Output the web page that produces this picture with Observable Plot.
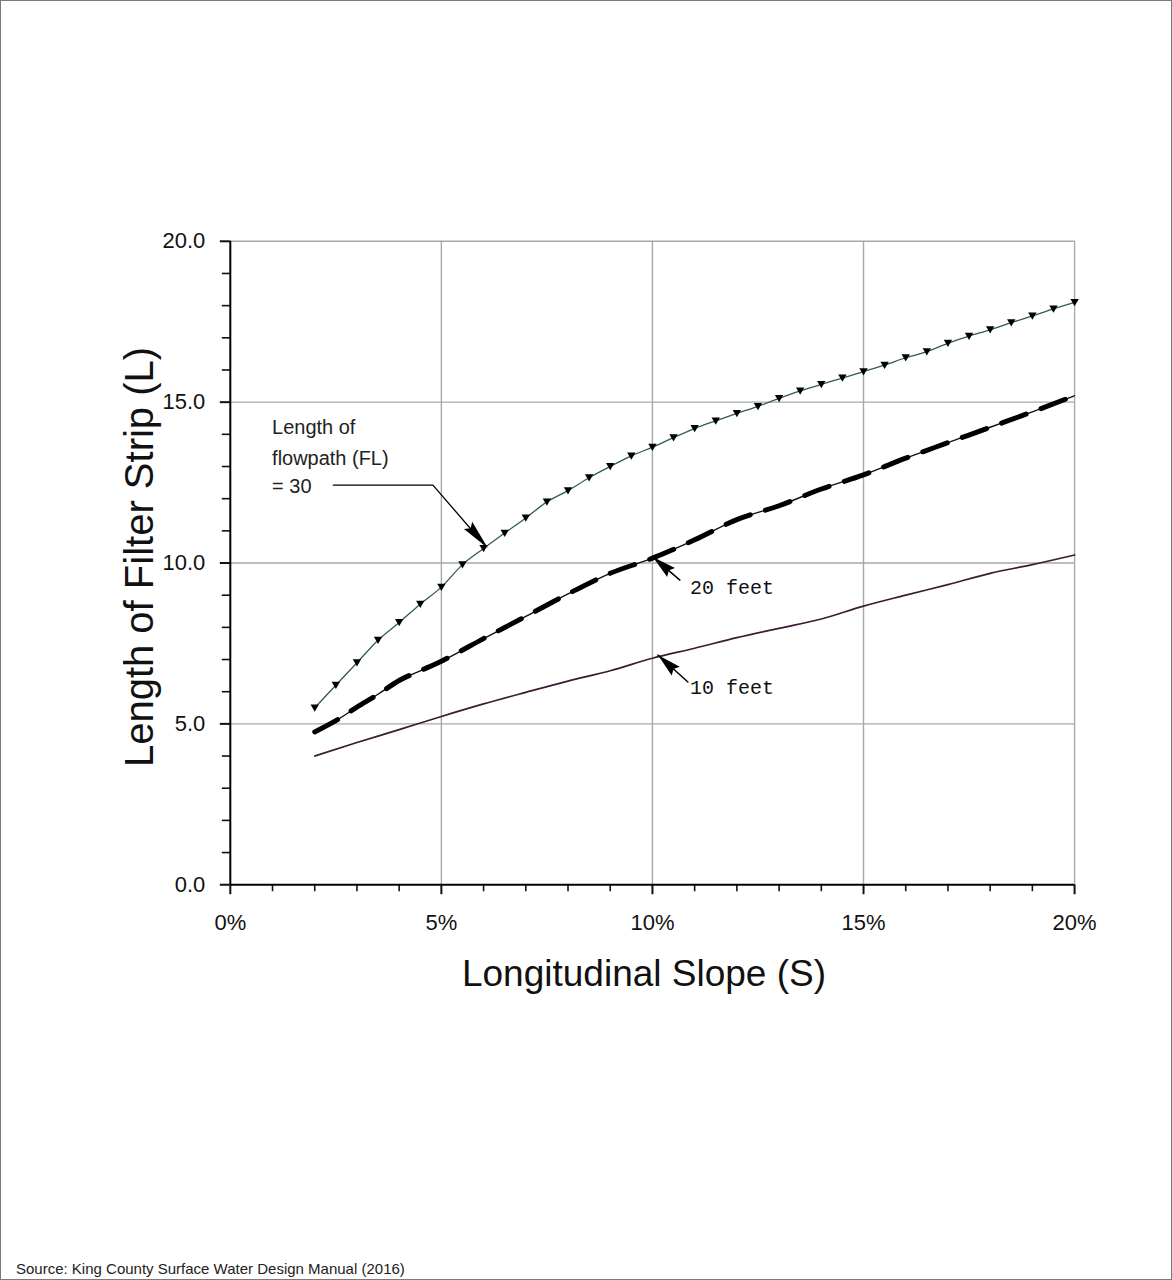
<!DOCTYPE html>
<html>
<head>
<meta charset="utf-8">
<script src="https://cdn.jsdelivr.net/npm/d3@7"></script>
<script src="https://cdn.jsdelivr.net/npm/@observablehq/plot@0.6"></script>
<style>
html,body{margin:0;padding:0;background:#fff;}
#frame{position:relative;width:1172px;height:1280px;box-sizing:border-box;border:1px solid #7a7a7a;background:#fff;overflow:hidden;}
#chart{position:absolute;left:-1px;top:-1px;}
.title{position:absolute;font-family:"Liberation Sans",Arial,sans-serif;color:#111;white-space:nowrap;}
#xtitle{left:643px;top:973px;font-size:37px;transform:translate(-50%,-50%);}
#ytitle{left:138px;top:556px;font-size:40px;transform:translate(-50%,-50%) rotate(-90deg);}
#caption{position:absolute;left:15px;top:1259px;font:15px "Liberation Sans",Arial,sans-serif;color:#222;}
</style>
</head>
<body>
<div id="frame">
  <div id="chart"></div>
  <div class="title" id="xtitle">Longitudinal Slope (S)</div>
  <div class="title" id="ytitle">Length of Filter Strip (L)</div>
  <div id="caption">Source: King County Surface Water Design Manual (2016)</div>
</div>
<script>
// ---- data ----
const slopesFL30 = [2,2.5,3,3.5,4,4.5,5,5.5,6,6.5,7,7.5,8,8.5,9,9.5,10,10.5,11,11.5,12,12.5,13,13.5,14,14.5,15,15.5,16,16.5,17,17.5,18,18.5,19,19.5,20];
const lengthFL30 = [5.5,6.2,6.9,7.6,8.15,8.72,9.25,9.95,10.45,10.93,11.4,11.9,12.25,12.65,13.0,13.33,13.6,13.9,14.18,14.42,14.65,14.87,15.12,15.35,15.55,15.75,15.95,16.15,16.38,16.57,16.83,17.05,17.25,17.47,17.68,17.9,18.1];

const slopesFL20 = [2,2.5,3,3.5,4,4.5,5,6,7,8,9,10,11,12,13,14,15,16,17,18,19,20];
const lengthFL20 = [4.75,5.1,5.52,5.92,6.35,6.65,6.95,7.65,8.34,9.04,9.68,10.15,10.72,11.35,11.78,12.3,12.74,13.26,13.74,14.22,14.7,15.2];

const slopesFL10 = [2,3,4,5,6,7,8,9,10,11,12,13,14,15,16,17,18,19,20];
const lengthFL10 = [4.0,4.42,4.82,5.23,5.62,5.98,6.33,6.65,7.04,7.35,7.68,7.97,8.26,8.66,9.0,9.33,9.68,9.95,10.25];

const majorXTicks = [0,5,10,15,20];
const minorXTicks = [1,2,3,4,6,7,8,9,11,12,13,14,16,17,18,19];
const majorYTicks = [0,5,10,15,20];
const minorYTicks = [1,2,3,4,6,7,8,9,11,12,13,14,16,17,18,19];

// annotation text and arrows (data coordinates)
const flLabelLines = ["Length of","flowpath (FL)","= 30"];
const flLabelX = 0.99;
const flLabelY = [14.22,13.26,12.36];
const flLeaderX = [2.44,4.8,6.0];
const flLeaderY = [12.42,12.42,10.6];
const feetLabels = ["20 feet","10 feet"];
const feetLabelX = [10.89,10.89];
const feetLabelY = [9.25,6.12];
const arrowTailX = [4.8,10.65,10.84];
const arrowTailY = [12.42,9.47,6.3];
const arrowTipX = [6.1,10.01,10.13];
const arrowTipY = [10.47,10.19,7.14];
const arrowKind = ["long","short","short"];

// ---- build tables ----
const fl30 = slopesFL30.map((s,i)=>({s, L:lengthFL30[i]}));
const fl20 = slopesFL20.map((s,i)=>({s, L:lengthFL20[i]}));
const fl10 = slopesFL10.map((s,i)=>({s, L:lengthFL10[i]}));
const flText = flLabelLines.map((t,i)=>({x:flLabelX, y:flLabelY[i], t}));
const leader = flLeaderX.map((x,i)=>({x, y:flLeaderY[i]}));
const feetText = feetLabels.map((t,i)=>({x:feetLabelX[i], y:feetLabelY[i], t}));

const W = 1172, H = 1000;
const mL = 230, mR = 97, mT = 241, mB = 115;
const pxX = (W-mL-mR)/20, pxY = (H-mT-mB)/20;
const arrows = arrowTipX.map((x,i)=>{
  const dx = (x-arrowTailX[i])*pxX, dy = -(arrowTipY[i]-arrowTailY[i])*pxY;
  return {x, y:arrowTipY[i], rot: Math.atan2(dx,-dy)*180/Math.PI, kind:arrowKind[i]};
});
const shaftLines = arrowTipX.map((x,i)=>[{x:arrowTailX[i],y:arrowTailY[i],k:i},{x,y:arrowTipY[i],k:i}]).slice(1).flat();

// arrowhead symbols: tip at the origin, pointing up
const headLong = {draw(ctx){ctx.moveTo(0,0);ctx.lineTo(-5.5,30);ctx.lineTo(0,26);ctx.lineTo(5.5,30);ctx.closePath();}};
const headShort = {draw(ctx){ctx.moveTo(0,0);ctx.lineTo(-6,24);ctx.lineTo(0,21);ctx.lineTo(6,24);ctx.closePath();}};

const gridStyle = {stroke:"#a8a8a8", strokeOpacity:1, strokeWidth:1.4};

const chart = Plot.plot({
  width: W, height: H,
  marginLeft: mL, marginRight: mR, marginTop: mT, marginBottom: mB,
  x: {domain:[0,20], label:null},
  y: {domain:[0,20], label:null},
  style: {fontFamily:"'Liberation Sans', Arial, sans-serif", fontSize:"22px", color:"#111", background:"#fff"},
  marks: [
    Plot.gridX(majorXTicks.slice(1), gridStyle),
    Plot.gridY(majorYTicks.slice(1), gridStyle),
    Plot.axisX(minorXTicks, {tickSize:7, tickFormat:()=>"", strokeWidth:1.6, label:null}),
    Plot.axisY(minorYTicks, {tickSize:8, tickFormat:()=>"", strokeWidth:1.6, label:null}),
    Plot.axisX(majorXTicks, {tickSize:10, tickPadding:20, tickFormat:d=>d+"%", strokeWidth:2, label:null, fontSize:22, fontWeight:300}),
    Plot.axisY(majorYTicks, {tickSize:10, tickPadding:15, tickFormat:d=>d.toFixed(1), strokeWidth:2, label:null, fontSize:22, fontWeight:300}),
    Plot.ruleX([0], {stroke:"#000", strokeWidth:2}),
    Plot.ruleY([0], {stroke:"#000", strokeWidth:2}),
    // FL = 10
    Plot.line(fl10, {x:"s", y:"L", stroke:"#3c1b35", strokeWidth:1.7, curve:"monotone-x"}),
    // FL = 20
    Plot.line(fl20, {x:"s", y:"L", stroke:"#111", strokeWidth:1.4, curve:"monotone-x"}),
    Plot.line(fl20, {x:"s", y:"L", stroke:"#000", strokeWidth:5, strokeDasharray:"26,16", curve:"monotone-x"}),
    // FL = 30
    Plot.line(fl30, {x:"s", y:"L", stroke:"#2f5c56", strokeWidth:1.3, curve:"monotone-x"}),
    Plot.dot(fl30, {x:"s", y:"L", symbol:"triangle2", r:4, fill:"#000", rotate:180, dy:-1}),
    // annotations
    Plot.text(flText, {x:"x", y:"y", text:"t", textAnchor:"start", fontSize:20, fill:"#222", fontFamily:"'Liberation Sans', Arial, sans-serif"}),
    Plot.line(leader, {x:"x", y:"y", stroke:"#000", strokeWidth:1.3}),
    Plot.line(shaftLines, {x:"x", y:"y", z:"k", stroke:"#000", strokeWidth:1.5}),
    Plot.dot(arrows.filter(d=>d.kind==="long"), {x:"x", y:"y", rotate:"rot", symbol:headLong, fill:"#000", stroke:"none", r:5}),
    Plot.dot(arrows.filter(d=>d.kind==="short"), {x:"x", y:"y", rotate:"rot", symbol:headShort, fill:"#000", stroke:"none", r:5}),
    Plot.text(feetText, {x:"x", y:"y", text:"t", textAnchor:"start", fontSize:20, fill:"#111", fontFamily:"'Liberation Mono', monospace"})
  ]
});
document.getElementById("chart").appendChild(chart);
</script>
</body>
</html>
